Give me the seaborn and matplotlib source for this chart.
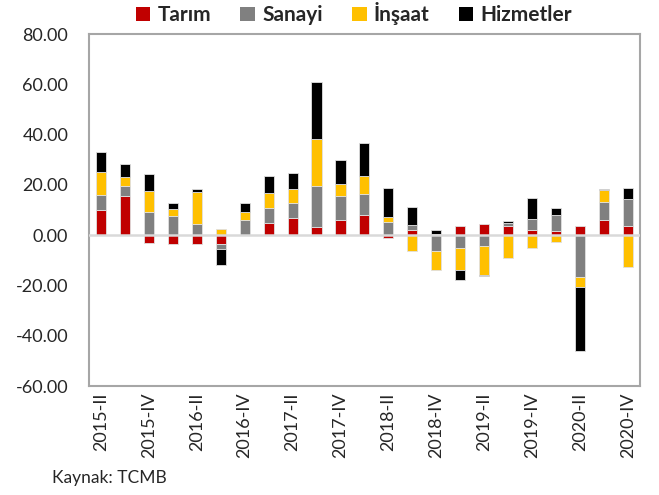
import matplotlib
matplotlib.use("Agg")
import matplotlib.pyplot as plt
import numpy as np
import seaborn as sns
from matplotlib.patches import Patch

# Quarters and contributions (percentage points)
quarters = ['2015-II', '2015-III', '2015-IV', '2016-I', '2016-II', '2016-III', '2016-IV',
            '2017-I', '2017-II', '2017-III', '2017-IV', '2018-I', '2018-II', '2018-III',
            '2018-IV', '2019-I', '2019-II', '2019-III', '2019-IV', '2020-I', '2020-II',
            '2020-III', '2020-IV']
tarim = [10.2, 15.5, -3.3, -3.5, -3.5, -3.5, 0.0, 4.9, 6.7, 3.4, 5.9, 8.1, -1.3, 2.2,
         0.5, 3.7, 4.5, 3.7, 2.2, 1.5, 3.5, 5.9, 3.7]
sanayi = [5.6, 4.0, 9.1, 7.8, 4.5, -2.0, 6.1, 5.8, 6.0, 16.0, 9.6, 8.2, 5.1, 2.0,
          -6.3, -5.3, -4.2, 1.2, 4.3, 6.4, -16.6, 7.2, 10.5]
insaat = [9.3, 3.6, 8.3, 2.5, 12.8, 2.6, 3.2, 6.2, 5.8, 18.9, 5.0, 7.2, 2.0, -6.2,
          -7.6, -8.5, -11.6, -9.1, -5.3, -2.9, -4.0, 5.0, -12.6]
hizmetler = [8.0, 5.0, 6.9, 2.6, 1.0, -6.3, 3.6, 6.8, 6.4, 22.6, 9.4, 13.0, 11.8, 6.9,
             1.6, -4.1, -0.4, 0.9, 8.4, 2.8, -25.6, 0.2, 4.4]

series_names = ['Tarım', 'Sanayi', 'İnşaat', 'Hizmetler']
series_vals = [tarim, sanayi, insaat, hizmetler]
colors = ['#C00000', '#808080', '#FFC000', '#000000']
tick_labels = quarters[::2]

sns.set_style('white')
plt.rcParams['font.family'] = ['Lato', 'DejaVu Sans']

fig = plt.figure(figsize=(6.59, 4.95), dpi=100)
ax = fig.add_axes([0.135, 0.2202, 0.836, 0.7111])

# stack positives upward and negatives downward
pos_cum = np.zeros(len(quarters))
neg_cum = np.zeros(len(quarters))
for name, vals, col in zip(series_names, series_vals, colors):
    v = np.array(vals, dtype=float)
    bottom = np.where(v >= 0, pos_cum, neg_cum)
    sns.barplot(x=quarters, y=v, bottom=bottom, color=col, saturation=1,
                errorbar=None, width=0.42, edgecolor='#e0e0e0', linewidth=0.6, ax=ax)
    pos_cum = pos_cum + np.where(v >= 0, v, 0)
    neg_cum = neg_cum + np.where(v < 0, v, 0)

ax.axhline(0, color='#d9d9d9', linewidth=1.8, zorder=3)
ax.set_xlim(-0.5, len(quarters) - 0.5)
ax.set_ylim(-60, 80)
ax.set_yticks(range(-60, 81, 20))
ax.set_yticklabels([f'{t:.2f}' for t in range(-60, 81, 20)], fontsize=13)
ax.set_xticks(range(0, len(quarters), 2))
ax.set_xticklabels(tick_labels, rotation=90, fontsize=13)
ax.tick_params(axis='y', length=0, pad=15)
ax.tick_params(axis='x', length=0, pad=5)
ax.set_xlabel('')
ax.set_ylabel('')
for sp in ax.spines.values():
    sp.set_visible(True)
    sp.set_color('#a6a6a6')
    sp.set_linewidth(1.5)

handles = [Patch(facecolor=c, edgecolor='none') for c in colors]
fig.legend(handles, series_names, loc='center', bbox_to_anchor=(354 / 659, 0.972),
           ncol=4, frameon=False, handlelength=0.7, handleheight=0.7,
           handletextpad=0.35, columnspacing=1.4,
           prop={'weight': 'bold', 'size': 15})

fig.text(52 / 659, 1 - 478 / 495, 'Kaynak: TCMB', fontsize=12.5, va='center', ha='left')

fig.savefig('out.png', dpi=100)
